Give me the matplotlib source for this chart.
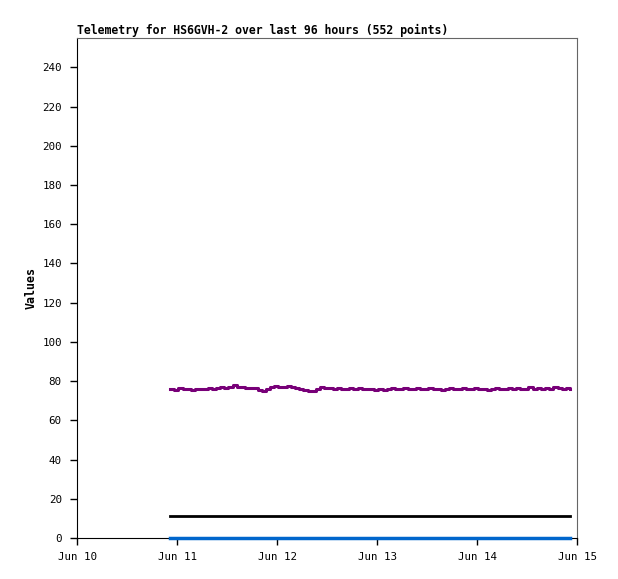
import pandas as pd
import matplotlib
matplotlib.use("Agg")
import matplotlib.pyplot as plt
import matplotlib.dates as mdates

# hourly readings from the telemetry (start Jun 10 22:20)
inicio = pd.Timestamp("2025-06-10 22:20")
horas = list(range(97))
canal1 = [76, 75.5, 76.5, 76, 76, 75.5, 76, 76,
          76, 76.5, 76, 76.5, 77, 76.5, 77, 78,
          77, 77, 76.5, 76.5, 76.5, 75.5, 75, 76,
          77, 77.5, 77, 77, 77.5, 77, 76.5, 76,
          75.5, 75, 75, 76, 77, 76.5, 76.5, 76,
          76.5, 76, 76, 76.5, 76, 76.5, 76, 76,
          76, 75.5, 76, 75.5, 76, 76.5, 76, 76,
          76.5, 76, 76, 76.5, 76, 76, 76.5, 76,
          76, 75.5, 76, 76.5, 76, 76, 76.5, 76,
          76, 76.5, 76, 76, 75.5, 76, 76.5, 76,
          76, 76.5, 76, 76.5, 76, 76, 77, 76,
          76.5, 76, 76.5, 76, 77, 76.5, 76, 76.5, 76]
canal2 = [11] * 97
canal3 = [0] * 97

tempos = [inicio + pd.Timedelta(hours=h) for h in horas]

fig = plt.figure(figsize=(6.18, 5.79), dpi=100)
ax = fig.add_axes([77/618, 41/579, 500/618, 500/579])

ax.plot(tempos, canal1, color="#780078", lw=2.2, drawstyle="steps-post")
ax.plot(tempos, canal2, color="black", lw=2)
ax.plot(tempos, canal3, color="#0066cc", lw=2.5, clip_on=False, zorder=5)

ax.set_ylim(0, 255)
ax.set_xlim(pd.Timestamp("2025-06-10"), pd.Timestamp("2025-06-15"))
ax.set_yticks(range(0, 241, 20))
ax.xaxis.set_major_locator(mdates.DayLocator())
ax.xaxis.set_major_formatter(mdates.DateFormatter("%b %d"))

fonte = "DejaVu Sans Mono"
for lbl in ax.get_xticklabels() + ax.get_yticklabels():
    lbl.set_family(fonte)
    lbl.set_fontsize(7.8)
ax.tick_params(length=5, width=1, direction="out")
ax.tick_params(axis="y", pad=6)
ax.tick_params(axis="x", pad=5)

ax.spines["top"].set_color("#666666")
ax.spines["right"].set_color("#666666")

ax.set_title("Telemetry for HS6GVH-2 over last 96 hours (552 points)",
             loc="left", fontsize=8.3, fontweight="bold", family=fonte, pad=3)
ax.set_ylabel("Values", fontsize=8.4, fontweight="bold", family=fonte, labelpad=3)

fig.savefig("out.png", dpi=100)
